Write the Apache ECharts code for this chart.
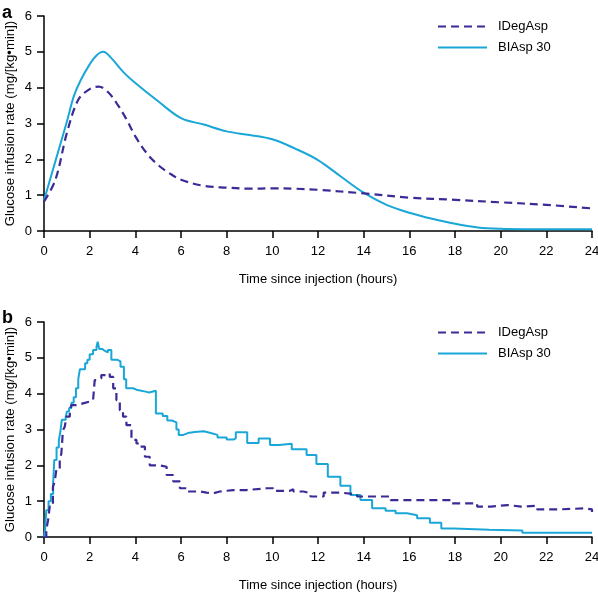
<!DOCTYPE html>
<html>
<head>
<meta charset="utf-8">
<script src="https://cdn.jsdelivr.net/npm/echarts@6/dist/echarts.min.js"></script>
<style>
html,body{margin:0;padding:0;background:#fff;}
#chart{width:598px;height:592px;}
</style>
</head>
<body>
<div id="chart"></div>
<script>
// ---- Data ----
var seriesNames = ['IDegAsp', 'BIAsp 30'];
var xTicks = [0, 2, 4, 6, 8, 10, 12, 14, 16, 18, 20, 22, 24];
var yTicks = [0, 1, 2, 3, 4, 5, 6];

// Panel a (smoothed profiles)
var aIdegTimes = [0, 0.5, 1, 1.5, 2, 2.4, 2.8, 3.2, 3.6, 4, 4.5, 5, 5.5, 6, 7, 8, 9, 10, 11, 12, 14, 16, 18, 20, 22, 24];
var aIdegVals  = [0.82, 1.43, 2.73, 3.66, 3.96, 4.03, 3.88, 3.55, 3.13, 2.64, 2.17, 1.84, 1.61, 1.43, 1.26, 1.21, 1.18, 1.19, 1.18, 1.15, 1.05, 0.93, 0.87, 0.80, 0.73, 0.63];
var aBiaspTimes = [0, 0.5, 1, 1.3, 1.6, 2, 2.3, 2.6, 2.9, 3.5, 4, 5, 6, 7, 8, 9, 10, 11, 12, 13, 14, 15, 16, 17, 18, 19, 20, 21, 22, 23, 24];
var aBiaspVals  = [0.85, 1.95, 3.05, 3.75, 4.2, 4.65, 4.9, 5.00, 4.86, 4.42, 4.13, 3.62, 3.15, 2.97, 2.78, 2.68, 2.56, 2.30, 1.98, 1.52, 1.07, 0.73, 0.51, 0.34, 0.20, 0.10, 0.06, 0.05, 0.05, 0.05, 0.05];

// Panel b (step profiles)
var bIdegTimes = [0, 0.1, 0.18, 0.25, 0.39, 0.47, 0.54, 0.69, 0.76, 0.83, 0.91, 0.98, 1.13, 1.2, 1.42, 1.71, 2.0, 2.15, 2.22, 2.37, 2.51, 2.73, 2.88, 3.03, 3.17, 3.32, 3.46, 3.61, 3.83, 4.05, 4.19, 4.42, 4.63, 5.07, 5.37, 5.66, 5.95, 6.24, 6.83, 7.12, 7.41, 7.7, 8.29, 8.87, 9.75, 10.04, 10.77, 10.92, 11.37, 11.67, 12.25, 12.98, 13.71, 15.18, 16.6, 17.8, 18.97, 19.56, 20.3, 20.9, 21.6, 22.5, 23.7, 24];
var bIdegVals  = [0, 0.2, 0.47, 0.85, 1.4, 1.55, 1.87, 2.15, 2.33, 2.98, 3.08, 3.36, 3.54, 3.68, 3.73, 3.78, 3.82, 3.87, 4.38, 4.43, 4.52, 4.57, 4.47, 4.15, 3.82, 3.54, 3.36, 3.12, 2.71, 2.61, 2.52, 2.24, 2.0, 1.96, 1.73, 1.55, 1.36, 1.27, 1.24, 1.22, 1.27, 1.31, 1.31, 1.36, 1.36, 1.29, 1.33, 1.27, 1.22, 1.13, 1.24, 1.19, 1.13, 1.03, 1.03, 0.94, 0.85, 0.89, 0.85, 0.87, 0.77, 0.80, 0.77, 0.70];
var bBiaspTimes = [0, 0.05, 0.1, 0.2, 0.3, 0.4, 0.45, 0.55, 0.65, 0.72, 0.78, 0.95, 1.0, 1.1, 1.2, 1.3, 1.4, 1.5, 1.57, 1.8, 1.9, 2.0, 2.15, 2.3, 2.35, 2.42, 2.55, 2.65, 2.8, 2.95, 3.2, 3.35, 3.5, 3.6, 3.9, 4.1, 4.5, 4.6, 4.9, 5.2, 5.4, 5.6, 5.8, 5.9, 6.1, 6.3, 6.6, 7.0, 7.3, 7.6, 8.0, 8.3, 8.4, 8.9, 9.4, 9.9, 10.3, 10.85, 11.5, 11.93, 12.43, 12.98, 13.42, 13.86, 14.37, 14.96, 15.4, 15.9, 16.34, 16.9, 17.4, 17.95, 19.5, 20.95, 24];
var bBiaspVals  = [0, 0.2, 0.75, 1.0, 1.2, 1.5, 2.15, 2.5, 2.7, 2.95, 3.27, 3.35, 3.5, 3.6, 3.75, 3.9, 4.15, 4.4, 4.68, 4.85, 4.95, 5.1, 5.22, 5.3, 5.45, 5.25, 5.2, 5.15, 5.22, 4.95, 4.9, 4.75, 4.4, 4.15, 4.1, 4.05, 4.03, 4.08, 3.45, 3.38, 3.25, 3.2, 3.0, 2.85, 2.9, 2.93, 2.95, 2.9, 2.85, 2.78, 2.72, 2.75, 2.92, 2.62, 2.75, 2.57, 2.6, 2.45, 2.29, 2.04, 1.68, 1.43, 1.17, 1.03, 0.8, 0.73, 0.66, 0.61, 0.52, 0.4, 0.24, 0.2, 0.18, 0.12, 0.12];

// ---- Build ----
function pairs(t, v) { return t.map(function (x, i) { return [x, v[i]]; }); }
var FONT = 'Liberation Sans, Arial, sans-serif';
var IDEG_COLOR = '#3a2c96';
var BIASP_COLOR = '#1aa7d8';

function xAxisCfg(gi) {
  return {
    gridIndex: gi, type: 'value', min: xTicks[0], max: xTicks[xTicks.length - 1], interval: 2,
    name: 'Time since injection (hours)', nameLocation: 'middle', nameGap: 42, nameMoveOverlap: false,
    nameTextStyle: { fontFamily: FONT, fontSize: 13, color: '#000' },
    axisLine: { show: true, lineStyle: { color: '#000', width: 1.5 } },
    axisTick: { show: true, length: 7, lineStyle: { color: '#000', width: 1.5 } },
    axisLabel: { margin: 14, fontFamily: FONT, fontSize: 13, color: '#000' },
    splitLine: { show: false }
  };
}
function yAxisCfg(gi) {
  return {
    gridIndex: gi, type: 'value', min: yTicks[0], max: yTicks[yTicks.length - 1], interval: 1,
    name: 'Glucose infusion rate (mg/[kg\u2022min])', nameLocation: 'middle', nameGap: 27, nameMoveOverlap: false,
    nameTextStyle: { fontFamily: FONT, fontSize: 13.2, color: '#000' },
    axisLine: { show: true, lineStyle: { color: '#000', width: 1.5 } },
    axisTick: { show: true, length: 7, lineStyle: { color: '#000', width: 1.5 } },
    axisLabel: { margin: 12, fontFamily: FONT, fontSize: 13, color: '#000' },
    splitLine: { show: false }
  };
}
function legendCfg(top) {
  return {
    data: seriesNames, left: 437, top: top, orient: 'vertical',
    itemWidth: 49, itemHeight: 14, itemGap: 8, padding: 0,
    itemStyle: { opacity: 0 },
    textStyle: { fontFamily: FONT, fontSize: 13, color: '#000', padding: [0, 0, 0, 6] },
    selectedMode: false
  };
}
var idegLine = { color: IDEG_COLOR, width: 2.2, type: [8, 5] };
var biaspLine = { color: BIASP_COLOR, width: 2 };

var option = {
  animation: false,
  backgroundColor: '#fff',
  title: [
    { text: 'a', left: 2, top: 4, padding: 0, textStyle: { fontFamily: FONT, fontSize: 18, fontWeight: 'bold', color: '#000' } },
    { text: 'b', left: 2, top: 309, padding: 0, textStyle: { fontFamily: FONT, fontSize: 18, fontWeight: 'bold', color: '#000' } }
  ],
  legend: [legendCfg(20), legendCfg(326)],
  grid: [
    { left: 44, right: 6, top: 16, height: 215, containLabel: false, outerBoundsMode: 'none' },
    { left: 44, right: 6, top: 322, height: 215, containLabel: false, outerBoundsMode: 'none' }
  ],
  xAxis: [xAxisCfg(0), xAxisCfg(1)],
  yAxis: [yAxisCfg(0), yAxisCfg(1)],
  series: [
    { name: 'IDegAsp', type: 'line', xAxisIndex: 0, yAxisIndex: 0, data: pairs(aIdegTimes, aIdegVals),
      smooth: 0.35, symbol: 'none', lineStyle: idegLine, itemStyle: { color: IDEG_COLOR }, z: 3 },
    { name: 'BIAsp 30', type: 'line', xAxisIndex: 0, yAxisIndex: 0, data: pairs(aBiaspTimes, aBiaspVals),
      smooth: 0.35, symbol: 'none', lineStyle: biaspLine, itemStyle: { color: BIASP_COLOR }, z: 2 },
    { name: 'IDegAsp', type: 'line', xAxisIndex: 1, yAxisIndex: 1, data: pairs(bIdegTimes, bIdegVals),
      step: 'end', symbol: 'none', lineStyle: idegLine, itemStyle: { color: IDEG_COLOR }, z: 3 },
    { name: 'BIAsp 30', type: 'line', xAxisIndex: 1, yAxisIndex: 1, data: pairs(bBiaspTimes, bBiaspVals),
      step: 'end', symbol: 'none', lineStyle: biaspLine, itemStyle: { color: BIASP_COLOR }, z: 2 }
  ]
};
var chart = echarts.init(document.getElementById('chart'), null, { renderer: 'canvas' });
chart.setOption(option);
</script>
</body>
</html>
